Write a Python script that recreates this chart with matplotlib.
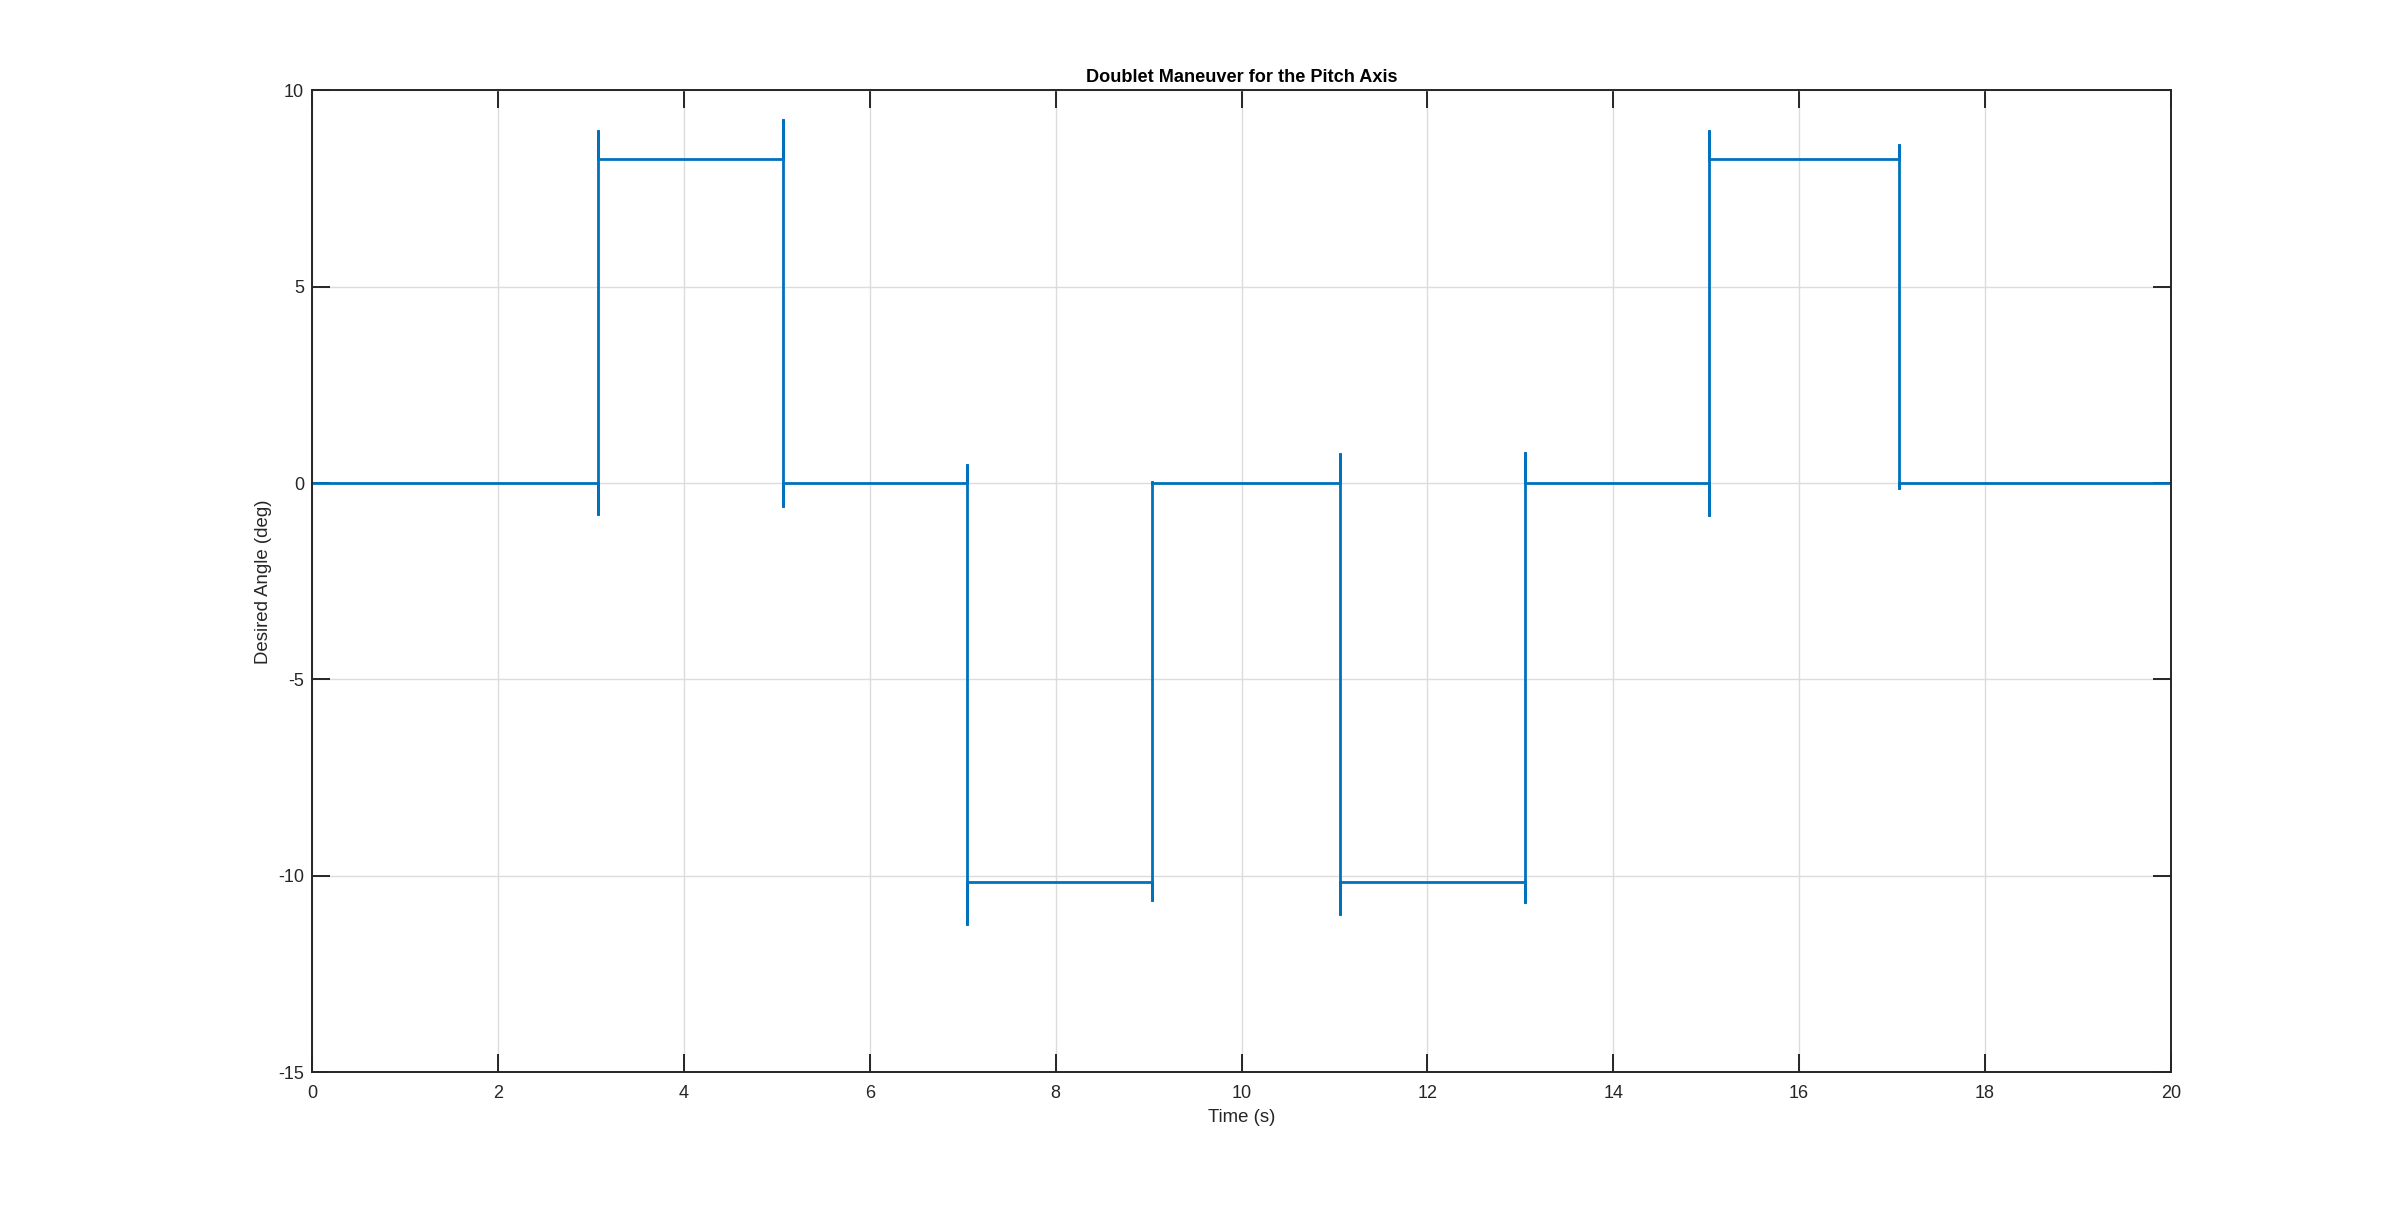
import numpy as np
import matplotlib.pyplot as plt

# --------------------------------------------------
# DATA
# --------------------------------------------------
T_END = 20.0
switch_times = [3.07, 5.065, 7.05, 9.04, 11.06, 13.05, 15.03, 17.07]
levels_after = [8.25, 0.0, -10.16, 0.0, -10.16, 0.0, 8.25, 0.0]
spike_high = [9.0, 9.26, 0.48, 0.06, 0.76, 0.78, 9.0, 8.63]
spike_low = [-0.81, -0.62, -11.25, -10.64, -11.0, -10.7, -0.84, -0.15]

x_ticks = [0, 2, 4, 6, 8, 10, 12, 14, 16, 18, 20]
y_ticks = [-15, -10, -5, 0, 5, 10]

# --------------------------------------------------
# BUILD SIGNAL PATH
# --------------------------------------------------
t = [0.0]
y = [0.0]
level = 0.0
for ts, new, hi, lo in zip(switch_times, levels_after, spike_high, spike_low):
    t.append(ts); y.append(level)
    if new > level:
        t += [ts, ts]; y += [lo, hi]
    else:
        t += [ts, ts]; y += [hi, lo]
    t.append(ts); y.append(new)
    level = new
t.append(T_END); y.append(level)

# --------------------------------------------------
# PLOT
# --------------------------------------------------
plt.rcParams['font.family'] = ['Liberation Sans', 'DejaVu Sans']
plt.rcParams['axes.unicode_minus'] = False
AX_COL = "#262626"

fig = plt.figure(figsize=(12, 6.03), dpi=200)
ax = fig.add_axes([0.1301, 0.1109, 0.9045 - 0.1301, 0.9251 - 0.1109])

ax.plot(t, y, color="#0072BD", linewidth=1.0, solid_joinstyle="miter")

ax.set_xlim(0, 20)
ax.set_ylim(-15, 10)
ax.set_xticks(x_ticks)
ax.set_yticks(y_ticks)
ax.grid(True, color="#dcdcdc", linewidth=0.5)
ax.set_axisbelow(True)

for s in ax.spines.values():
    s.set_color(AX_COL)
    s.set_linewidth(0.7)
ax.tick_params(direction="in", length=6.6, width=0.7, color=AX_COL,
               labelcolor=AX_COL, labelsize=6.5, top=True, right=True)
ax.tick_params(axis="x", pad=4.6)
ax.tick_params(axis="y", pad=3.0)

ax.set_xlabel("Time (s)", fontsize=6.7, color=AX_COL, labelpad=2.5)
ax.set_ylabel("Desired Angle (deg)", fontsize=6.7, color=AX_COL, labelpad=2.0)
ax.set_title("Doublet Maneuver for the Pitch Axis", fontsize=6.55,
             fontweight="bold", color="black", pad=3.0)

fig.savefig("out.png", dpi=200)
